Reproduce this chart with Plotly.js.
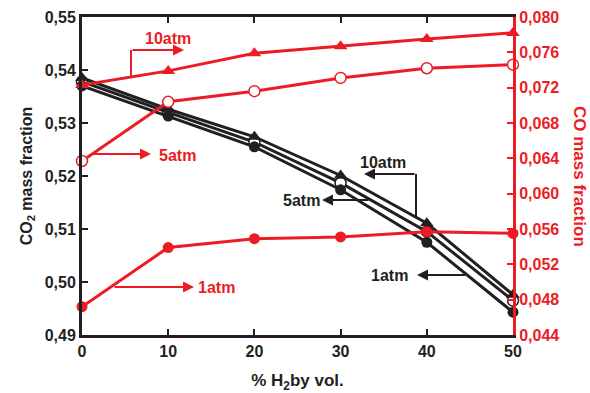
<!DOCTYPE html>
<html>
<head>
<meta charset="utf-8">
<script src="https://cdn.plot.ly/plotly-3.0.1.min.js"></script>
<style>
  html, body { margin: 0; padding: 0; background: #fff; }
  #chart { width: 590px; height: 393px; }
</style>
</head>
<body>
<div id="chart"></div>
<script>
// % H2 by volume
const h2 = [0, 10, 20, 30, 40, 50];

// CO2 mass fraction (left axis)
const co2_1atm  = [0.5370, 0.5313, 0.5255, 0.5174, 0.5075, 0.4943];
const co2_5atm  = [0.5378, 0.5320, 0.5264, 0.5187, 0.5095, 0.4965];
const co2_10atm = [0.5385, 0.5326, 0.5274, 0.5201, 0.5111, 0.4976];

// CO mass fraction (right axis)
const co_1atm  = [0.0472, 0.0539, 0.0549, 0.0551, 0.0557, 0.0555];
const co_5atm  = [0.0637, 0.0704, 0.0716, 0.0731, 0.0742, 0.0746];
const co_10atm = [0.0723, 0.0739, 0.0759, 0.0767, 0.0775, 0.0782];

const BLACK = '#231f20';
const RED = '#ed1c24';
const FONT = 'Liberation Sans, Arial, sans-serif';

function line(y, color, symbol, axis, fill) {
  return {
    x: h2, y: y, yaxis: axis, type: 'scatter', mode: 'lines+markers',
    line: { color: color, width: 3 },
    marker: {
      symbol: symbol, size: symbol === 'triangle-up' ? 12 : 11,
      color: fill || color,
      line: { color: color, width: fill ? 1.5 : 0 }
    },
    cliponaxis: false, showlegend: false
  };
}

const traces = [
  line(co2_5atm, BLACK, 'circle', 'y', '#ffffff'),
  line(co2_10atm, BLACK, 'triangle-up', 'y'),
  line(co2_1atm, BLACK, 'circle', 'y'),
  line(co_10atm, RED, 'triangle-up', 'y2'),
  line(co_5atm, RED, 'circle', 'y2', '#ffffff'),
  line(co_1atm, RED, 'circle', 'y2')
];

// plot area in pixels: x 82..513, y 17..335
const L = 82, R = 513, T = 17, B = 335;
const px = v => (v - L) / (R - L);
const py = v => (B - v) / (B - T);

function arrow(x0, y0, x1, y1, color) {
  return {
    xref: 'paper', yref: 'paper', x: px(x1), y: py(y1),
    axref: 'pixel', ayref: 'pixel', ax: x0 - x1, ay: y0 - y1,
    text: '', showarrow: true, arrowhead: 2, arrowsize: 1.1, arrowwidth: 2,
    arrowcolor: color
  };
}
function label(text, x, y, color) {
  return {
    xref: 'paper', yref: 'paper', x: px(x), y: py(y), text: text,
    showarrow: false, xanchor: 'center', yanchor: 'middle',
    font: { family: FONT, size: 16, color: color, weight: 'bold' }
  };
}

const annotations = [
  label('10atm', 168, 38, RED),
  arrow(131, 50, 184, 50, RED),
  label('5atm', 177, 155, RED),
  arrow(92, 154, 151, 154, RED),
  label('1atm', 216, 287, RED),
  arrow(113, 287, 194, 287, RED),
  label('10atm', 383, 162, BLACK),
  arrow(416, 174, 364, 174, BLACK),
  label('5atm', 301, 200, BLACK),
  arrow(370, 200, 322, 200, BLACK),
  label('1atm', 389, 275, BLACK),
  arrow(467, 275, 417, 275, BLACK),
  {
    xref: 'paper', yref: 'paper', x: px(580), y: 0.5, text: 'CO mass fraction',
    textangle: 90, showarrow: false, xanchor: 'center', yanchor: 'middle',
    font: { family: FONT, size: 17, color: RED, weight: 'bold' }
  }
];

const shapes = [
  { type: 'line', xref: 'paper', yref: 'paper', x0: px(131), y0: py(77), x1: px(131), y1: py(50),
    line: { color: RED, width: 2 } },
  { type: 'line', xref: 'paper', yref: 'paper', x0: px(416), y0: py(218), x1: px(416), y1: py(174),
    line: { color: BLACK, width: 2 } }
];

const tickFont = { family: FONT, size: 16, color: BLACK, weight: 'bold' };

const layout = {
  width: 590, height: 393,
  margin: { l: L, r: 590 - R, t: T, b: 393 - B },
  paper_bgcolor: '#fff', plot_bgcolor: '#fff',
  separators: ',.',
  showlegend: false,
  xaxis: {
    range: [0, 50], tickvals: [0, 10, 20, 30, 40, 50], ticktext: ['0', '10', '20', '30', '40', '50'],
    showgrid: false, zeroline: false,
    showline: true, linecolor: BLACK, linewidth: 3, mirror: 'ticks',
    ticks: 'inside', ticklen: 6, tickwidth: 2, tickcolor: BLACK,
    tickfont: tickFont,
    title: { text: '% H<sub>2</sub>by vol.', font: { family: FONT, size: 17, color: BLACK, weight: 'bold' }, standoff: 16 }
  },
  yaxis: {
    range: [0.49, 0.55], dtick: 0.01, tickformat: '.2f',
    showgrid: false, zeroline: false,
    showline: true, linecolor: BLACK, linewidth: 3,
    ticks: 'inside', ticklen: 6, tickwidth: 2, tickcolor: BLACK,
    tickfont: tickFont,
    title: { text: 'CO<sub>2</sub> mass fraction', font: { family: FONT, size: 16, color: BLACK, weight: 'bold' }, standoff: 9 }
  },
  yaxis2: {
    overlaying: 'y', side: 'right',
    range: [0.044, 0.080], dtick: 0.004, tickformat: '.3f',
    showgrid: false, zeroline: false,
    showline: true, linecolor: RED, linewidth: 3,
    ticks: 'inside', ticklen: 6, tickwidth: 2, tickcolor: RED,
    tickfont: { family: FONT, size: 16, color: RED, weight: 'bold' }
  },
  annotations: annotations,
  shapes: shapes
};

Plotly.newPlot('chart', traces, layout, { displayModeBar: false, staticPlot: true });
</script>
</body>
</html>
